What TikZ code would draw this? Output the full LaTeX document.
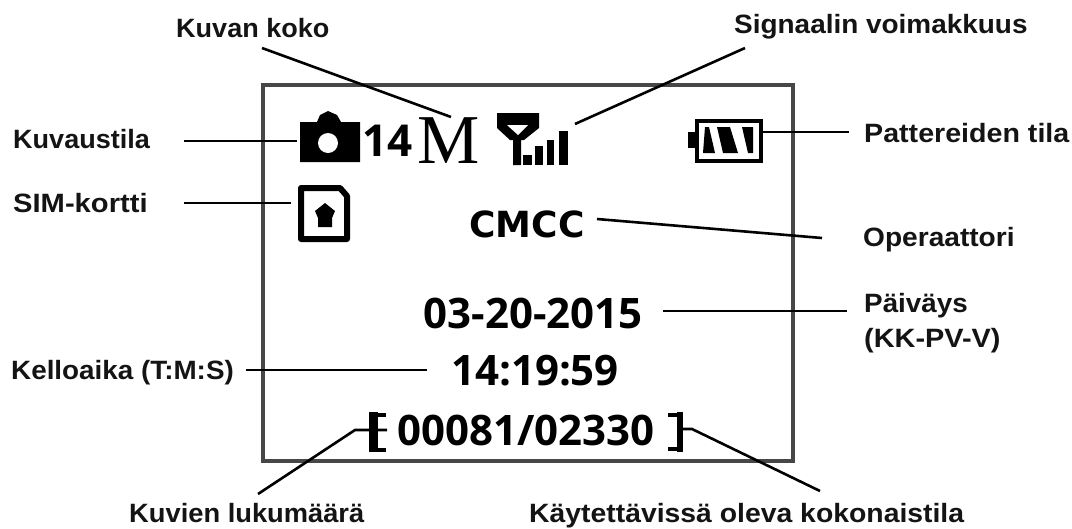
\documentclass[tikz,border=0pt]{standalone}
\usepackage{fontspec}
\setmainfont{Open Sans}
\newfontfamily\labf{Liberation Sans}
\newfontfamily\serf{Liberation Serif}
\newfontfamily\cmf{DejaVu Sans}
\newcommand{\stretchx}[2]{\scalebox{#1}[1]{#2}}
\begin{document}
\begin{tikzpicture}[x=1pt,y=-1pt,
  lab/.style={font=\labf\fontsize{26.5}{35}\selectfont\bfseries,inner sep=0pt,text=black!92,align=left,anchor=base west},
  disp/.style={font=\fontsize{42}{44}\selectfont\bfseries,inner sep=0pt,text=black},
  leader/.style={line width=2.6pt,black},
  frameline/.style={line width=3.6pt,black!72}]
\useasboundingbox (0,0) rectangle (1072,528);
\fill[white] (0,0) rectangle (1072,528);
\draw[frameline] (263,85) rectangle (793,461);
% labels
\node[lab] (kk) at (176,37) {\stretchx{1.02}{Kuvan koko}};
\node[lab] (sv) at (734,33) {\stretchx{1.054}{Signaalin voimakkuus}};
\node[lab] (kt) at (13,148) {\stretchx{1.02}{Kuvaustila}};
\node[lab] (sk) at (13,212) {\stretchx{1.1}{SIM-kortti}};
\node[lab] (pt) at (864,142) {\stretchx{1.08}{Pattereiden tila}};
\node[lab] (op) at (863,246) {\stretchx{1.06}{Operaattori}};
\node[lab] (pv) at (864,312) {\stretchx{1.05}{Päiväys}};
\node[lab] (pv2) at (864,347) {\stretchx{1.09}{(KK-PV-V)}};
\node[lab] (ka) at (11,379) {\stretchx{1.05}{Kelloaika (T:M:S)}};
\node[lab] (kl) at (129,522) {\stretchx{1.03}{Kuvien lukumäärä}};
\node[lab] (ko) at (529,522) {\stretchx{1.07}{Käytettävissä oleva kokonaistila}};
% display
\node[font=\fontsize{44}{46}\selectfont\bfseries,inner sep=0pt,anchor=base west] (n14) at (362,156) {14};
\node[font=\serf\fontsize{70}{70}\selectfont,inner sep=0pt,anchor=base west] (m) at (417,163) {M};
\node[font=\cmf\fontsize{36}{38}\selectfont\bfseries,inner sep=0pt] (cmcc) at (527,224) {CMCC};
\node[disp] (date) at (533,313) {03-20-2015};
\node[disp] (time) at (535,371) {14:19:59};
\node[disp] (cnt) at (526,430) {00081/02330};
% brackets
\draw[line width=4.5pt] (386,415)--(373,415)--(373,450)--(386,450);
\draw[line width=4.5pt] (668,415)--(679,415)--(679,449)--(668,449);
\fill (369,412) rectangle (378,452);
\fill (677,412) rectangle (683,452);
% camera
\fill (300,122) -- (317,122) -- (320,115) -- (328,111) -- (337,115) -- (341,122) -- (360,122) -- (360,162) -- (300,162) -- cycle;
\fill[white] (328,143) circle (10);
% signal
\fill (497,113) -- (539,113) -- (539,128) -- (524,140) -- (521,140) -- (521,165) -- (513,165) -- (513,140) -- (510,140) -- (497,128) -- cycle;
\fill[white] (507,125) -- (528,125) -- (518,135) -- cycle;
\fill (523,155) rectangle (532,165);
\fill (535,146) rectangle (543,165);
\fill (547,140) rectangle (554,165);
\fill (559,131) rectangle (568,165);
% sim
\draw[line width=6pt,line join=round] (301,188) -- (340,188) -- (347,196) -- (347,239) -- (301,239) -- cycle;
\fill (325,203) -- (335,211) -- (332,218) -- (332,227) -- (318,227) -- (318,218) -- (315,211) -- cycle;
% battery
\fill (688,132) rectangle (696,148);
\draw[line width=3.2pt] (697,121) rectangle (761,161);
\fill (705,127)--(709,127)--(715,153)--(703,153)--cycle;
\fill (717,127)--(730,127)--(738,153)--(723,153)--cycle;
\fill (742,127)--(753,127)--(753,153)--(748,153)--cycle;
% connector ends
\coordinate (kka) at (262,48); \coordinate (kkb) at (451,117);
\coordinate (sva) at (745,48); \coordinate (svb) at (575,124);
\coordinate (kta) at (184,141); \coordinate (ktb) at (297,141);
\coordinate (ska) at (184,203); \coordinate (skb) at (291,203);
\coordinate (pta) at (849,132); \coordinate (ptb) at (761,132);
\coordinate (opa) at (822,238); \coordinate (opb) at (597,219);
\coordinate (pva) at (847,311); \coordinate (pvb) at (663,311);
\coordinate (kaa) at (246,370); \coordinate (kab) at (427,370);
\coordinate (kla) at (258,494); \coordinate (klm) at (355,430); \coordinate (klb) at (387,430);
\coordinate (koa) at (820,491); \coordinate (kom) at (692,429); \coordinate (kob) at (683,429);
% connectors
\draw[leader] (kka) -- (kkb);
\draw[leader] (sva) -- (svb);
\draw[leader] (kta) -- (ktb);
\draw[leader] (ska) -- (skb);
\draw[leader] (pta) -- (ptb);
\draw[leader] (opa) -- (opb);
\draw[leader] (pva) -- (pvb);
\draw[leader] (kaa) -- (kab);
\draw[leader] (kla) -- (klm) -- (klb);
\draw[leader] (koa) -- (kom) -- (kob);
\end{tikzpicture}
\end{document}
